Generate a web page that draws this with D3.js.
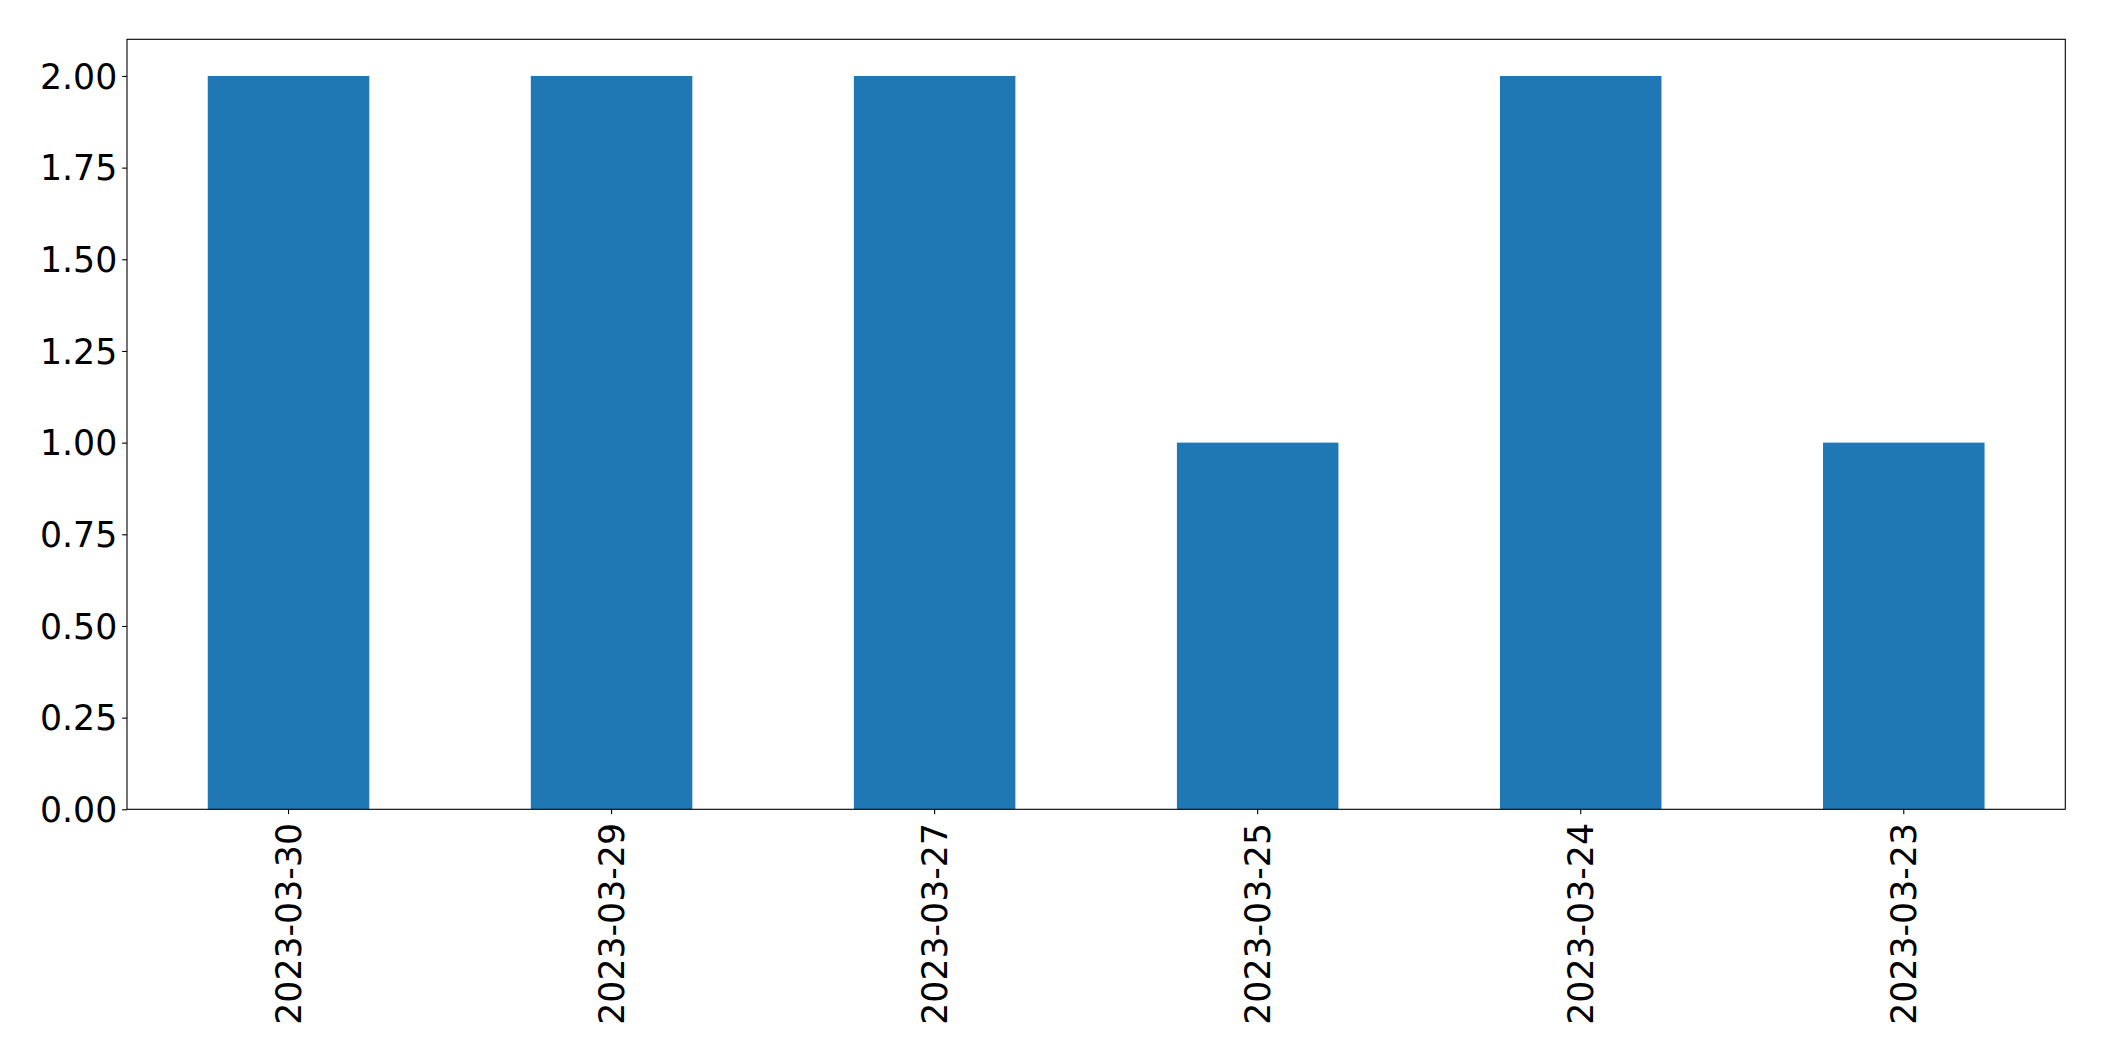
<!DOCTYPE html>
<html>
<head>
<meta charset="utf-8">
<script src="https://cdn.jsdelivr.net/npm/d3@7"></script>
<style>
  html, body { margin: 0; padding: 0; background: #fff; }
  svg { display: block; }
</style>
</head>
<body>
<script>
const categories = ["2023-03-30", "2023-03-29", "2023-03-27", "2023-03-25", "2023-03-24", "2023-03-23"];
const values = [2, 2, 2, 1, 2, 1];
const yTicks = [0, 0.25, 0.5, 0.75, 1.0, 1.25, 1.5, 1.75, 2.0];

const W = 2104, H = 1061;
const m = { left: 127, top: 39.3, right: 2104 - 2065.3, bottom: 1061 - 809.3 };
const iw = W - m.left - m.right, ih = H - m.top - m.bottom;

const svg = d3.select("body").append("svg").attr("width", W).attr("height", H);
const g = svg.append("g").attr("transform", `translate(${m.left},${m.top})`);

const x = d3.scaleBand().domain(categories).range([0, iw]).paddingInner(0.5).paddingOuter(0.25);
const y = d3.scaleLinear().domain([0, 2.1]).range([ih, 0]);

g.selectAll("rect.bar").data(values).enter().append("rect")
  .attr("class", "bar")
  .attr("x", (d, i) => x(categories[i]))
  .attr("width", x.bandwidth())
  .attr("y", d => y(d))
  .attr("height", d => y(0) - y(d))
  .attr("fill", "#1f77b4");

const tickLen = 4.86, pad = 4.86, fs = 34.72;

const yAxis = g.append("g").call(d3.axisLeft(y).tickValues(yTicks).tickFormat(d3.format(".2f")).tickSize(tickLen).tickPadding(pad));
const xAxis = g.append("g").attr("transform", `translate(0,${ih})`).call(d3.axisBottom(x).tickSize(tickLen).tickPadding(pad));

[yAxis, xAxis].forEach(a => {
  a.select(".domain").remove();
  a.selectAll(".tick line").attr("stroke", "#000").attr("stroke-width", 1.1);
  a.selectAll(".tick text").attr("fill", "#000").style("font-family", "DejaVu Sans").style("font-size", fs + "px");
});

yAxis.selectAll(".tick text").attr("dy", "0.35em");
xAxis.selectAll(".tick text")
  .attr("transform", "rotate(-90)")
  .attr("text-anchor", "end")
  .attr("x", -(tickLen + pad + 4))
  .attr("y", 0)
  .attr("dy", "0.35em");

g.append("rect").attr("x", 0).attr("y", 0).attr("width", iw).attr("height", ih)
  .attr("fill", "none").attr("stroke", "#000").attr("stroke-width", 1.1);
</script>
</body>
</html>
